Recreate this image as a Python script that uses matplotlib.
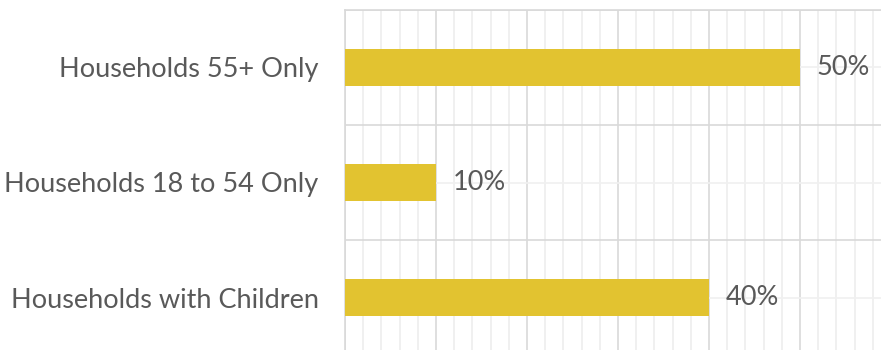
import matplotlib.pyplot as plt
from matplotlib.ticker import MultipleLocator

categories = ["Households with Children", "Households 18 to 54 Only", "Households 55+ Only"]
shares = [0.40, 0.10, 0.50]
labels = ["40%", "10%", "50%"]

bar_color = "#e2c330"
text_color = "#595959"
font = "Lato"

fig = plt.figure(figsize=(8.81, 3.5), dpi=100)
ax = fig.add_axes([345 / 881, -5 / 350, 546 / 881, 345 / 350])

y = list(range(len(categories)))
ax.barh(y, shares, height=0.32, color=bar_color, zorder=3)

for yi, v, lab in zip(y, shares, labels):
    ax.annotate(lab, (v, yi), xytext=(12, 0), textcoords="offset points",
                va="center", ha="left", fontsize=19.5, color=text_color,
                family=font)

ax.set_xlim(0, 0.6)
ax.set_ylim(-0.5, len(categories) - 0.5)
ax.set_yticks(y)
ax.set_yticklabels(categories, fontsize=19.5, color=text_color, family=font)
ax.tick_params(axis="y", length=0, pad=19)
ax.tick_params(axis="x", which="both", length=0, labelbottom=False)

# gridlines: majors every 10%, minors every 2%; horizontals between categories
ax.xaxis.set_major_locator(MultipleLocator(0.1))
ax.xaxis.set_minor_locator(MultipleLocator(0.02))
ax.set_yticks([v + 0.5 for v in y[:-1]] + [-0.5, len(categories) - 0.5], minor=True)
ax.tick_params(axis="y", which="minor", length=0)
ax.grid(True, axis="x", which="major", color="#d9d9d9", linewidth=1.2, zorder=0)
ax.grid(True, axis="x", which="minor", color="#eeeeee", linewidth=1.2, zorder=0)
ax.grid(True, axis="y", which="minor", color="#d9d9d9", linewidth=1.2, zorder=0)
ax.grid(True, axis="y", which="major", color="#f0f0f0", linewidth=1.2, zorder=0)

for s in ["right", "bottom"]:
    ax.spines[s].set_visible(False)
for s in ["left", "top"]:
    ax.spines[s].set_color("#d9d9d9")
    ax.spines[s].set_linewidth(1.2)

fig.savefig("out.png", dpi=100)
